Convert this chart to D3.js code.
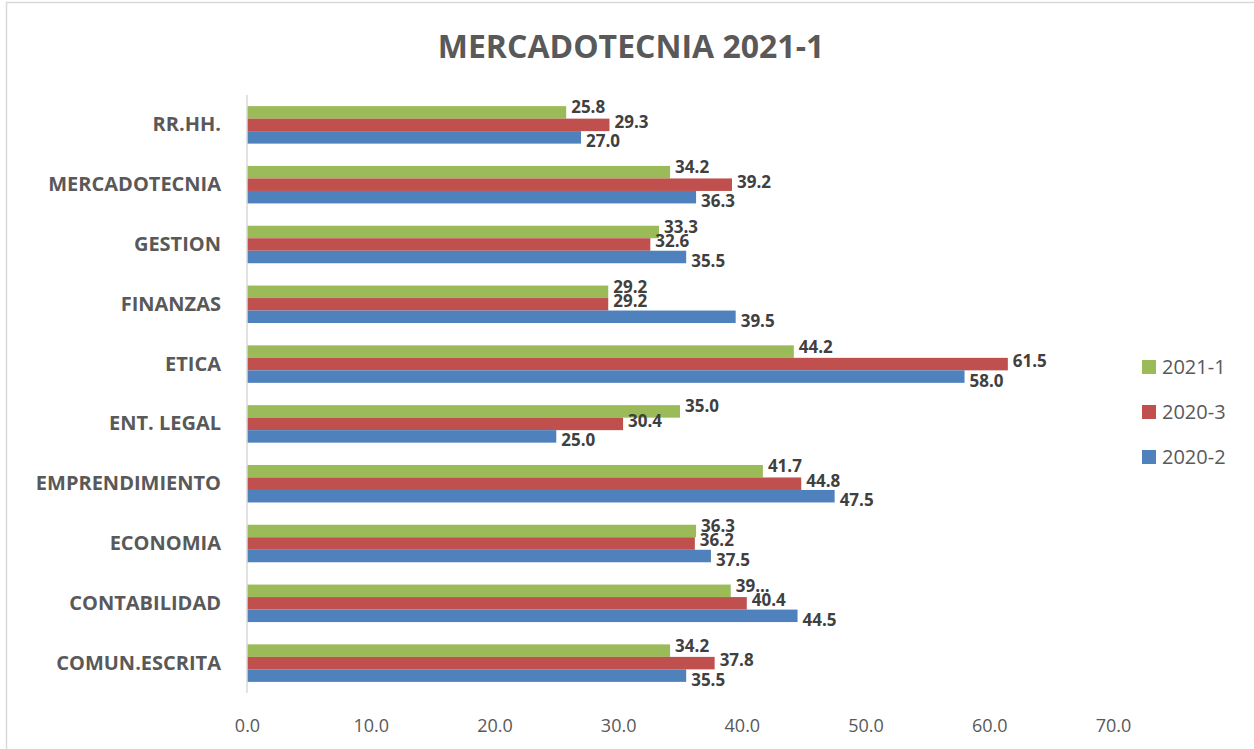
<!DOCTYPE html>
<html lang="es">
<head>
<meta charset="utf-8">
<title>MERCADOTECNIA 2021-1</title>
<script src="https://d3js.org/d3.v7.min.js"></script>
<style>
  body { margin: 0; background: #fff; }
  text { font-family: "Open Sans", "DejaVu Sans", sans-serif; }
</style>
</head>
<body>
<script>
// categories, top to bottom
var categories = ["RR.HH.", "MERCADOTECNIA", "GESTION", "FINANZAS", "ETICA",
  "ENT. LEGAL", "EMPRENDIMIENTO", "ECONOMIA", "CONTABILIDAD", "COMUN.ESCRITA"];
var seriesNames = ["2021-1", "2020-3", "2020-2"];
var s2021_1 = [25.8, 34.2, 33.3, 29.2, 44.2, 35.0, 41.7, 36.3, 39.1, 34.2];
var s2020_3 = [29.3, 39.2, 32.6, 29.2, 61.5, 30.4, 44.8, 36.2, 40.4, 37.8];
var s2020_2 = [27.0, 36.3, 35.5, 39.5, 58.0, 25.0, 47.5, 37.5, 44.5, 35.5];
var xTicks = [0, 10, 20, 30, 40, 50, 60, 70];
var colors = ["#9bbb59", "#c0504d", "#4f81bd"];

var w = 1254, h = 749;
var plotLeft = 247, plotRight = 1113, plotTop = 95, plotBottom = 693;

var svg = d3.select("body").append("svg")
  .attr("width", w).attr("height", h);

// chart frame
svg.append("rect")
  .attr("x", 6.5).attr("y", 2.5)
  .attr("width", 1260).attr("height", 800)
  .attr("fill", "none").attr("stroke", "#d9d9d9").attr("stroke-width", 1.5);

svg.append("text")
  .attr("x", 631).attr("y", 58)
  .attr("text-anchor", "middle")
  .attr("font-size", 32).attr("font-weight", "bold")
  .attr("fill", "#595959")
  .text("MERCADOTECNIA 2021-1");

var x = d3.scaleLinear().domain([0, 70]).range([plotLeft, plotRight]);
var y = d3.scaleBand().domain(categories).range([plotTop, plotBottom]).paddingInner(0.373).paddingOuter(0.186);
var ySub = d3.scaleBand().domain(seriesNames).range([0, y.bandwidth()]);

// x tick labels
var xAxis = svg.append("g")
  .attr("transform", "translate(0," + (plotBottom + 23) + ")")
  .call(d3.axisBottom(x).tickValues(xTicks).tickFormat(d3.format(".1f")).tickSize(0));
xAxis.select(".domain").remove();
xAxis.selectAll("text")
  .attr("font-family", "'Open Sans', sans-serif")
  .attr("font-size", 18).attr("fill", "#595959");

// category labels
var yAxis = svg.append("g")
  .attr("transform", "translate(" + (plotLeft - 23) + ",0)")
  .call(d3.axisLeft(y).tickSize(0));
yAxis.select(".domain").remove();
yAxis.selectAll("text")
  .attr("font-family", "'Open Sans', sans-serif")
  .attr("font-size", 20).attr("font-weight", "bold").attr("fill", "#595959");

var rows = [];
var all = [s2021_1, s2020_3, s2020_2];
categories.forEach(function(c, i) {
  seriesNames.forEach(function(s, j) {
    rows.push({cat: c, series: s, j: j, value: all[j][i]});
  });
});

svg.selectAll("rect.bar")
  .data(rows)
  .enter()
  .append("rect")
  .attr("class", "bar")
  .attr("x", x(0))
  .attr("y", function(d) { return y(d.cat) + ySub(d.series); })
  .attr("width", function(d) { return x(d.value) - x(0); })
  .attr("height", ySub.bandwidth())
  .attr("fill", function(d) { return colors[d.j]; });

// vertical axis line
svg.append("line")
  .attr("x1", plotLeft).attr("x2", plotLeft)
  .attr("y1", plotTop).attr("y2", plotBottom)
  .attr("stroke", "#d9d9d9").attr("stroke-width", 1.5);

// data labels
var labelShift = [-5, -3, 4];
svg.selectAll("text.lbl")
  .data(rows)
  .enter()
  .append("text")
  .attr("class", "lbl")
  .attr("x", function(d) { return x(d.value) + 5; })
  .attr("y", function(d) { return y(d.cat) + ySub(d.series) + ySub.bandwidth() / 2 + labelShift[d.j]; })
  .attr("dy", "0.35em")
  .attr("font-size", 17).attr("font-weight", "bold")
  .attr("fill", "#404040")
  .text(function(d) {
    // the one label Excel cut short
    if (d.cat === "CONTABILIDAD" && d.series === "2021-1") return "39...";
    return d3.format(".1f")(d.value);
  });

// legend
var legend = svg.selectAll("g.leg")
  .data(seriesNames)
  .enter()
  .append("g")
  .attr("class", "leg")
  .attr("transform", function(d, i) { return "translate(1142," + (367 + i * 45) + ")"; });
legend.append("rect")
  .attr("x", 0).attr("y", -7)
  .attr("width", 14).attr("height", 14)
  .attr("fill", function(d, i) { return colors[i]; });
legend.append("text")
  .attr("x", 20).attr("dy", "0.35em")
  .attr("font-size", 20).attr("fill", "#595959")
  .text(function(d) { return d; });
</script>
</body>
</html>
